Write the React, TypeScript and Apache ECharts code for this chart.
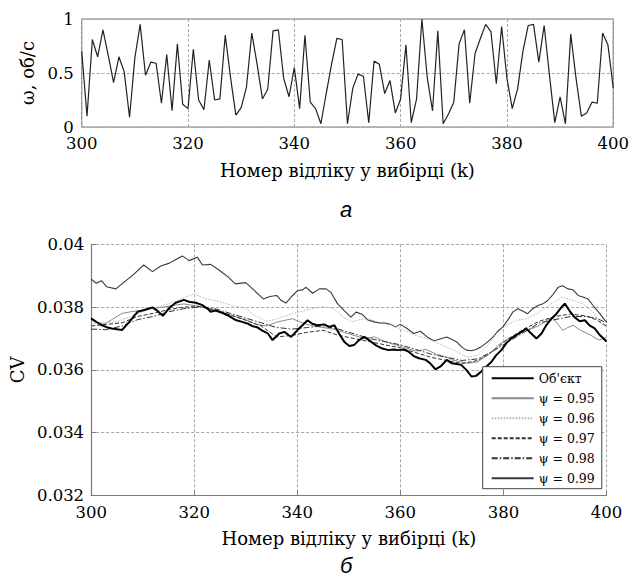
import React, { useEffect, useRef } from "react";
import * as echarts from "echarts";

// ---- top chart (а): rotation speed per sample ----
const topStartK = 300;
const topOmega = [
  0.70, 0.10, 0.81, 0.65, 0.90, 0.66, 0.41, 0.65, 0.51, 0.09,
  0.64, 0.95, 0.48, 0.60, 0.59, 0.22, 0.67, 0.15, 0.77, 0.21,
  0.17, 0.72, 0.25, 0.16, 0.62, 0.25, 0.26, 0.85, 0.46, 0.11,
  0.18, 0.37, 0.87, 0.58, 0.26, 0.35, 0.89, 0.90, 0.45, 0.28,
  0.55, 0.17, 0.85, 0.23, 0.17, 0.03, 0.31, 0.58, 0.82, 0.81,
  0.03, 0.36, 0.49, 0.47, 0.04, 0.61, 0.58, 0.31, 0.43, 0.13,
  0.26, 0.76, 0.04, 0.26, 1.00, 0.46, 0.15, 0.89, 0.03, 0.12,
  0.23, 0.77, 0.90, 0.22, 0.68, 0.82, 0.95, 0.88, 0.40, 0.93,
  0.45, 0.17, 0.35, 0.70, 0.94, 0.95, 0.60, 0.94, 0.48, 0.04,
  0.28, 0.03, 0.86, 0.45, 0.10, 0.13, 0.23, 0.22, 0.87, 0.76,
  0.36,
];
const topYTicks = [0, 0.5, 1];
const xTicks = [300, 320, 340, 360, 380, 400];

// ---- bottom chart (б): CV ----
const cvObject = [
  [300,0.03764],[301,0.03753],[302,0.03743],[303,0.03736],[304,0.03732],[306,0.03727],[307.4,0.03753],[309,0.03785],
  [310.3,0.03791],[311.9,0.03799],[312.8,0.03789],[313.9,0.03772],[315.1,0.03796],[316.4,0.03814],[318,0.03823],
  [319,0.03817],[320.3,0.03814],[321.5,0.03807],[322.5,0.03796],[323.2,0.03785],[324.1,0.03789],[325.4,0.03782],
  [326.7,0.03772],[328,0.03759],[329.3,0.03753],[330.3,0.03748],[331.2,0.0374],[332.2,0.03736],[333.2,0.03725],
  [334.3,0.03716],[335.2,0.03695],[336.5,0.03716],[337.5,0.03721],[338.8,0.03705],[340,0.03726],[341,0.03742],
  [342,0.03758],[342.9,0.03747],[343.9,0.03742],[345.2,0.03745],[346.2,0.03737],[347.2,0.03742],[348.1,0.03716],
  [349.1,0.0369],[350.1,0.03676],[351,0.03679],[352,0.03695],[353,0.03705],[353.9,0.03695],[355.2,0.03679],
  [356.5,0.03668],[357.7,0.03663],[358.7,0.03665],[359.7,0.03663],[360.6,0.03665],[361.6,0.03658],[362.6,0.03644],
  [363.6,0.03637],[364.9,0.03632],[365.8,0.03621],[366.8,0.03602],[367.8,0.03611],[369,0.03632],[370,0.03621],
  [370.9,0.03619],[371.8,0.03616],[372.8,0.036],[373.8,0.03579],[374.7,0.03581],[375.7,0.03595],[376.7,0.03611],
  [377.7,0.03626],[378.6,0.03647],[379.6,0.03663],[380.6,0.03686],[381.5,0.037],[382.5,0.03711],[383.5,0.03721],
  [384.4,0.03732],[385.4,0.03716],[386.4,0.037],[387.4,0.03716],[388.3,0.03742],[389.3,0.03763],[390.3,0.03779],
  [391.2,0.03798],[391.9,0.03811],[392.8,0.03789],[393.8,0.03768],[394.8,0.03755],[395.8,0.03758],[396.7,0.03742],
  [397.7,0.03732],[398.7,0.03711],[399.7,0.03695],[400,0.0369],
];
const cvPsi095 = [
  [300,0.0376],[301,0.03752],[302.5,0.03745],[304,0.0376],[306,0.0378],[308,0.03786],[310,0.0379],[312,0.03796],
  [314,0.038],[316,0.03806],[318,0.0381],[320,0.03805],[322,0.038],[324,0.0379],[326,0.0378],[328,0.0377],
  [330,0.0376],[332,0.03745],[334,0.0374],[336,0.03752],[339,0.03763],[341,0.0375],[343,0.0374],[345,0.03735],
  [347,0.0373],[349,0.0372],[351,0.0371],[353,0.037],[355,0.03705],[357,0.0369],[359,0.0368],[361,0.0367],
  [363,0.0366],[365,0.03665],[367,0.0365],[369,0.0364],[370,0.03632],[373,0.03621],[375,0.03626],[377,0.03647],
  [379,0.03679],[381,0.037],[383,0.03716],[385,0.03728],[387,0.03742],[388.5,0.03758],[389.5,0.03768],
  [390.5,0.03747],[391.5,0.03726],[392.5,0.03735],[393.5,0.03742],[395,0.03726],[397,0.0371],[398.5,0.03695],
  [400,0.03703],
];
const cvPsi096 = [
  [300,0.03748],[305,0.03753],[310,0.03785],[315,0.03811],[318,0.0383],[320,0.03842],[322,0.03827],[325,0.03817],
  [327,0.03807],[330,0.03796],[332,0.0377],[334,0.03755],[335,0.03758],[337,0.03768],[339,0.03779],[341,0.03787],
  [343,0.03795],[345,0.03802],[347,0.03795],[349,0.03768],[350.5,0.03753],[352,0.0376],[354,0.03763],[356,0.03749],
  [358,0.03745],[360,0.03732],[362,0.03716],[364,0.03705],[366,0.03695],[368,0.0368],[371,0.03658],[373,0.0364],
  [375,0.03647],[377,0.03679],[378.6,0.03716],[380.6,0.03742],[382.5,0.03758],[384.5,0.03763],[386.4,0.03779],
  [388.3,0.038],[390.3,0.03821],[391.5,0.03832],[393.5,0.03821],[395.4,0.03811],[397.4,0.03784],[399.4,0.03742],
  [400,0.03735],
];
const cvPsi097 = [
  [300,0.0374],[303,0.03745],[306,0.0375],[309,0.0377],[312,0.0378],[315,0.03792],[318,0.038],[321,0.03802],
  [324,0.0379],[327,0.03775],[330,0.03758],[333,0.0374],[336,0.03705],[339,0.0371],[342,0.0372],[345,0.03726],
  [348,0.0371],[351,0.037],[354,0.0369],[357,0.0368],[360,0.0367],[363,0.03655],[366,0.0364],[369,0.0363],
  [372,0.0362],[375,0.0363],[378,0.0366],[381,0.037],[384,0.0373],[387,0.03755],[390,0.0377],[393,0.03778],
  [396,0.03772],[398,0.0376],[400,0.0374],
];
const cvPsi098 = [
  [300,0.0373],[303,0.03728],[306,0.0374],[309,0.0376],[312,0.0377],[315,0.03785],[318,0.03795],[321,0.038],
  [324,0.03795],[327,0.0378],[330,0.03765],[333,0.0375],[336,0.03735],[339,0.0373],[342,0.03735],[345,0.0374],
  [348,0.0373],[351,0.03715],[354,0.037],[357,0.0369],[360,0.0368],[363,0.03665],[366,0.0365],[369,0.0364],
  [372,0.0363],[375,0.03635],[378,0.0366],[381,0.0369],[384,0.0372],[387,0.0375],[390,0.0376],[393,0.0377],
  [396,0.0377],[398,0.03765],[400,0.0375],
];
const cvPsi099 = [
  [300,0.03889],[301,0.03876],[302,0.03884],[303,0.03865],[304.8,0.03858],[306.5,0.03881],[308.1,0.03902],
  [310.2,0.03934],[311.9,0.03913],[313.5,0.03931],[315.2,0.0394],[316.8,0.03955],[317.7,0.03963],[319,0.03948],
  [320.6,0.03959],[321.6,0.03934],[323.2,0.03936],[324.8,0.03918],[326.5,0.03897],[328,0.03874],[330,0.03878],
  [331.6,0.03854],[333.4,0.03826],[334.7,0.03834],[336,0.03837],[336.9,0.03821],[337.8,0.03813],[339.1,0.03837],
  [340.1,0.03853],[341,0.03855],[341.7,0.03863],[343,0.03844],[344.3,0.03858],[345.6,0.03858],[346.5,0.03847],
  [347.8,0.03811],[349.1,0.03789],[350.4,0.03768],[351.4,0.03784],[352.6,0.03777],[353.6,0.0376],[354.9,0.03753],
  [356.2,0.03749],[357.1,0.03749],[358.1,0.03745],[359.1,0.03737],[360,0.03745],[361.3,0.03732],[362.6,0.03716],
  [363.9,0.03723],[365.2,0.03705],[366.5,0.03693],[367.1,0.03695],[368,0.037],[369,0.03705],[370,0.03697],
  [370.9,0.0369],[371.8,0.03674],[372.8,0.03663],[373.8,0.03661],[374.7,0.03665],[375.7,0.03674],[376.7,0.03686],
  [378,0.03705],[378.9,0.03723],[379.9,0.03737],[380.9,0.0376],[381.8,0.03784],[382.8,0.03795],[383.8,0.03787],
  [384.7,0.03779],[385.7,0.03795],[386.7,0.03805],[387.7,0.03811],[388.6,0.03821],[389.6,0.0384],[390.6,0.03863],
  [391.5,0.03868],[392.5,0.03858],[393.5,0.03855],[394.5,0.03837],[395.4,0.03832],[396.4,0.03826],[397.4,0.03805],
  [398.7,0.03779],[399.7,0.03758],[400,0.03752],
];
const cvYTicks = [0.032, 0.034, 0.036, 0.038, 0.04];
const legendNames = ["Об'єкт", "ψ = 0.95", "ψ = 0.96", "ψ = 0.97", "ψ = 0.98", "ψ = 0.99"];

const SERIF = "DejaVu Serif";
const GRID_DASH = { color: "#a8a8a8", width: 1, type: [3, 2] as number[] };

export default function App() {
  const ref = useRef<HTMLDivElement>(null);
  useEffect(() => {
    if (!ref.current) return;
    const chart = echarts.init(ref.current, null, { renderer: "svg" });
    const axisLabel = { fontFamily: SERIF, fontSize: 16.5, color: "#000" };
    const nameStyle = { fontFamily: SERIF, fontSize: 18, color: "#000" };
    const mkSeries = (name: string, data: number[][], lineStyle: any) => ({
      name, type: "line", xAxisIndex: 1, yAxisIndex: 1, symbol: "none", data,
      itemStyle: { color: lineStyle.color, opacity: 0 },
      lineStyle,
    });
    const option: any = {
      animation: false,
      backgroundColor: "#fff",
      textStyle: { fontFamily: SERIF },
      grid: [
        { left: 81.7, top: 19, width: 532.3, height: 108, show: true, borderColor: "#7a7a7a", borderWidth: 1.2, backgroundColor: "transparent" },
        { left: 90, top: 244.3, width: 516.5, height: 251.2, show: false },
      ],
      xAxis: [
        {
          gridIndex: 0, type: "value", min: xTicks[0], max: xTicks[xTicks.length - 1], interval: 20,
          axisLine: { show: false }, axisTick: { show: false },
          axisLabel: { ...axisLabel, margin: 8 },
          splitLine: { show: true, lineStyle: GRID_DASH },
          name: "Номер відліку у вибірці (k)", nameLocation: "middle", nameGap: 34, nameTextStyle: nameStyle,
        },
        {
          gridIndex: 1, type: "value", min: xTicks[0], max: xTicks[xTicks.length - 1], interval: 20,
          axisLine: { show: true, onZero: false, lineStyle: { color: "#7a7a7a", width: 1.2 } },
          axisTick: { show: true, inside: true, length: 5, lineStyle: { color: "#7a7a7a" } },
          axisLabel: { ...axisLabel, margin: 8 },
          splitLine: { show: true, lineStyle: GRID_DASH },
          name: "Номер відліку у вибірці (k)", nameLocation: "middle", nameGap: 34, nameTextStyle: nameStyle,
        },
      ],
      yAxis: [
        {
          gridIndex: 0, type: "value", min: topYTicks[0], max: topYTicks[topYTicks.length - 1], interval: 0.5,
          axisLine: { show: false }, axisTick: { show: false },
          axisLabel: { ...axisLabel, margin: 8 },
          splitLine: { show: true, lineStyle: GRID_DASH },
          name: "ω, об/с", nameLocation: "middle", nameGap: 38, nameRotate: 90, nameTextStyle: nameStyle,
        },
        {
          gridIndex: 1, type: "value", min: cvYTicks[0], max: cvYTicks[cvYTicks.length - 1], interval: 0.002,
          axisLine: { show: true, onZero: false, lineStyle: { color: "#7a7a7a", width: 1.2 } },
          axisTick: { show: true, inside: true, length: 5, lineStyle: { color: "#7a7a7a" } },
          axisLabel: { ...axisLabel, margin: 7, formatter: (v: number) => String(Number(v.toFixed(3))) },
          splitLine: { show: true, lineStyle: GRID_DASH },
          name: "CV", nameLocation: "middle", nameGap: 61, nameRotate: 90, nameTextStyle: nameStyle,
        },
      ],
      legend: {
        show: true, orient: "vertical", left: 482.7, top: 366.7,
        data: legendNames,
        itemWidth: 42, itemHeight: 15, itemGap: 5,
        padding: [4, 7, 3, 8],
        borderColor: "#444", borderWidth: 1, backgroundColor: "#fff",
        itemStyle: { opacity: 0 },
        textStyle: { fontFamily: SERIF, fontSize: 12.5, color: "#000", lineHeight: 15 },
      },
      series: [
        {
          type: "line", xAxisIndex: 0, yAxisIndex: 0, symbol: "none", silent: true,
          data: topOmega.map((v, i) => [topStartK + i, v]),
          lineStyle: { color: "#222", width: 1.2 },
        },
        mkSeries(legendNames[5], cvPsi099, { color: "#3a3a3a", width: 1.1 }),
        mkSeries(legendNames[1], cvPsi095, { color: "#8a8a8a", width: 1 }),
        mkSeries(legendNames[2], cvPsi096, { color: "#b4b4b4", width: 1, type: [1.5, 1.5] }),
        mkSeries(legendNames[3], cvPsi097, { color: "#333", width: 1, type: [4, 2] }),
        mkSeries(legendNames[4], cvPsi098, { color: "#333", width: 1, type: [6, 2, 1.5, 2] }),
        mkSeries(legendNames[0], cvObject, { color: "#000", width: 2 }),
      ],
      graphic: [
        { type: "text", left: 340, top: 198, style: { text: "а", font: "italic 22px Liberation Sans", fill: "#000" } },
        { type: "text", left: 340, top: 554, style: { text: "б", font: "italic 22px Liberation Sans", fill: "#000" } },
      ],
    };
    chart.setOption(option);
    return () => chart.dispose();
  }, []);
  return (
    <div
      ref={ref}
      style={{ position: "fixed", left: 0, top: 0, width: 632, height: 585, background: "#fff" }}
    />
  );
}
